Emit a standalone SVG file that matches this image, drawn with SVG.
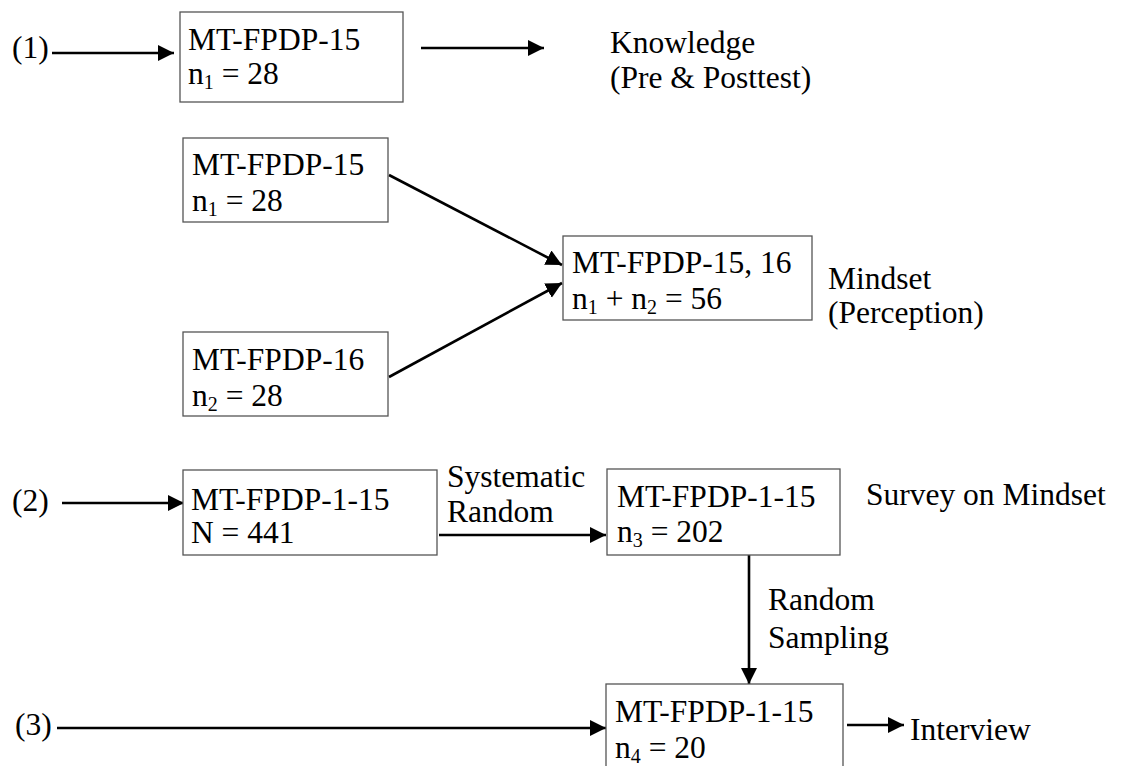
<svg xmlns="http://www.w3.org/2000/svg" width="1122" height="766" viewBox="0 0 1122 766">
<style>
text{font-family:"Liberation Serif","Times New Roman",serif;font-size:31.5px;fill:#000}
.box{fill:#fff;stroke:#555;stroke-width:1.3}
.c{stroke:#000;stroke-width:2.6;fill:none;marker-end:url(#ah)}
.sub{font-size:20px}
</style>
<defs>
<marker id="ah" markerUnits="userSpaceOnUse" markerWidth="18" markerHeight="18" refX="16" refY="8" orient="auto">
<path d="M0,0 L16,8 L0,16 Z" fill="#000"/>
</marker>
</defs>
<rect width="1122" height="766" fill="#fff"/>
<g id="connectors">
<line class="c" x1="52" y1="53" x2="174" y2="53"/>
<line class="c" x1="421" y1="48" x2="544" y2="48"/>
<line class="c" x1="389" y1="175" x2="562" y2="265"/>
<line class="c" x1="389" y1="377" x2="562" y2="283"/>
<line class="c" x1="62" y1="503" x2="184" y2="503"/>
<line class="c" x1="439" y1="535" x2="606" y2="535"/>
<line class="c" x1="749" y1="555" x2="749" y2="684"/>
<line class="c" x1="57" y1="728" x2="606" y2="728"/>
<line class="c" x1="847" y1="725" x2="904" y2="725"/>
</g>
<g id="label1"><text x="12" y="58">(1)</text></g>
<g id="box1">
<rect class="box" x="180" y="12" width="223" height="90"/>
<text x="188" y="50">MT-FPDP-15</text>
<text x="188" y="84">n<tspan class="sub" dy="5">1</tspan><tspan dy="-5"> = 28</tspan></text>
</g>
<g id="knowledge">
<text x="610" y="53">Knowledge</text>
<text x="610" y="88">(Pre &amp; Posttest)</text>
</g>
<g id="box2">
<rect class="box" x="183" y="138" width="205" height="84"/>
<text x="192" y="175">MT-FPDP-15</text>
<text x="192" y="211">n<tspan class="sub" dy="5">1</tspan><tspan dy="-5"> = 28</tspan></text>
</g>
<g id="box3">
<rect class="box" x="183" y="332" width="205" height="84"/>
<text x="192" y="370">MT-FPDP-16</text>
<text x="192" y="406">n<tspan class="sub" dy="5">2</tspan><tspan dy="-5"> = 28</tspan></text>
</g>
<g id="box4">
<rect class="box" x="563" y="236" width="249" height="84"/>
<text x="572" y="273">MT-FPDP-15, 16</text>
<text x="572" y="309">n<tspan class="sub" dy="5">1</tspan><tspan dy="-5"> + n</tspan><tspan class="sub" dy="5">2</tspan><tspan dy="-5"> = 56</tspan></text>
</g>
<g id="mindset">
<text x="828" y="289">Mindset</text>
<text x="828" y="323">(Perception)</text>
</g>
<g id="label2"><text x="12" y="511">(2)</text></g>
<g id="box5">
<rect class="box" x="183" y="470" width="254" height="85"/>
<text x="191" y="510">MT-FPDP-1-15</text>
<text x="191" y="543">N = 441</text>
</g>
<g id="systematic">
<text x="447" y="487">Systematic</text>
<text x="447" y="522">Random</text>
</g>
<g id="box6">
<rect class="box" x="607" y="469" width="233" height="86"/>
<text x="617" y="507">MT-FPDP-1-15</text>
<text x="617" y="542">n<tspan class="sub" dy="5">3</tspan><tspan dy="-5"> = 202</tspan></text>
</g>
<g id="survey"><text x="866" y="505">Survey on Mindset</text></g>
<g id="sampling">
<text x="768" y="610">Random</text>
<text x="768" y="648">Sampling</text>
</g>
<g id="label3"><text x="15" y="735">(3)</text></g>
<g id="box7">
<rect class="box" x="606" y="684" width="237" height="100"/>
<text x="615" y="722">MT-FPDP-1-15</text>
<text x="615" y="758">n<tspan class="sub" dy="5">4</tspan><tspan dy="-5"> = 20</tspan></text>
</g>
<g id="interview"><text x="910" y="740">Interview</text></g>
</svg>
